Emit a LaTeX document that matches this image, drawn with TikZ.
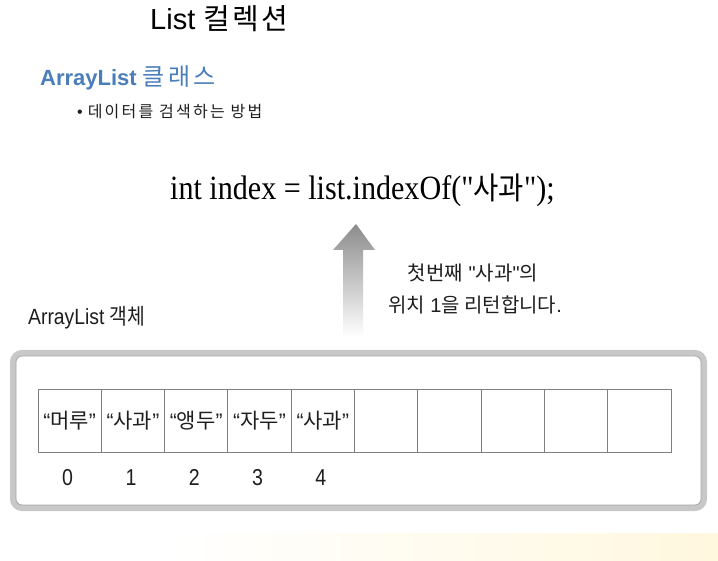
\documentclass[tikz,border=0pt]{standalone}
\usepackage{fontspec}
\setmainfont{Liberation Sans}
\newfontfamily\kr{Noto Sans CJK KR}
\newfontfamily\krsp[LetterSpace=8]{Noto Sans CJK KR}
\newfontfamily\krwide[LetterSpace=14]{Noto Sans CJK KR}
\newfontfamily\codefont{Liberation Serif}
\usetikzlibrary{calc}
\definecolor{titleblue}{RGB}{74,126,187}
\definecolor{cellgray}{RGB}{128,128,128}
\definecolor{framegray}{RGB}{200,200,200}
\definecolor{framedark}{RGB}{165,165,165}
\definecolor{arrowgray}{RGB}{140,140,140}
\definecolor{arrowmid}{RGB}{165,165,165}
\definecolor{softyellow}{RGB}{255,247,222}
\definecolor{ink}{RGB}{30,30,30}
\begin{document}
\begin{tikzpicture}[x=1pt,y=-1pt,
  cellbox/.style={draw=cellgray, line width=0.9pt, minimum width=63.3pt, minimum height=63pt,
    inner sep=0pt, outer sep=0pt, anchor=west, text=ink, font=\fontsize{21}{24}\selectfont},
  idx/.style={text=ink, font=\fontsize{23}{26}\selectfont, xscale=0.85, inner sep=0pt},
  framebox/.style={draw=framegray, line width=6pt, rounded corners=9pt,
    minimum width=691pt, minimum height=155pt, inner sep=0pt},
  innerframe/.style={draw=framedark, line width=0.7pt, rounded corners=6pt,
    minimum width=685pt, minimum height=149pt, inner sep=0pt},
  plain/.style={inner sep=0pt, text=ink}
]
\useasboundingbox (0,0) rectangle (718,561);
\fill[white] (0,0) rectangle (718,561);
% bottom soft gradient
\shade[left color=white, right color=softyellow] (170,533) rectangle (718,561);

% titles
\node[plain, anchor=base west, text=black, font=\fontsize{29}{32}\selectfont] (title) at (150,30) {List {\krsp 컬렉션}};
\node[plain, anchor=base west, text=titleblue, font=\fontsize{22}{26}\selectfont] (sub) at (40,86) {\textbf{ArrayList} {\krwide\fontsize{24}{26}\selectfont 클래스}};
\node[plain, anchor=base west, font=\fontsize{16}{18}\selectfont] (bullet) at (77,118) {•\hspace{5pt}{\krwide 데이터를 검색하는 방법}};

% code line
\node[plain, anchor=base west, text=black, font=\fontsize{34}{38}\codefont, xscale=0.885] (code) at (170,200)
  {int index = list.indexOf(\textquotedbl{\kr\fontsize{31}{34}\selectfont 사과}\textquotedbl);};

% arrow
\shade[top color=arrowgray, middle color=arrowmid, bottom color=white]
  (356,224) -- (375,250) -- (363,250) -- (363,337) -- (343,337) -- (343,250) -- (333,250) -- cycle;

% note
\node[plain, anchor=base, font=\fontsize{20}{22}\selectfont] (note1) at (473,281) {{\kr 첫번째} \textquotedbl{\kr 사과}\textquotedbl{\kr 의}};
\node[plain, anchor=base, font=\fontsize{20}{22}\selectfont] (note2) at (475,313) {{\kr 위치} 1{\kr 을 리턴합니다}.};

% object label
\node[plain, anchor=base west, font=\fontsize{22}{24}\selectfont, xscale=0.88] (objlabel) at (28,325) {ArrayList {\kr 객체}};

% frame
\node[framebox] (box) at (358.5,430.5) {};
\node[innerframe] (boxin) at (358.5,430.5) {};

% cells
\node[cellbox] (c0) at (38,420.5) {“{\kr 머루}”};
\node[cellbox] (c1) at (c0.east) {“{\kr 사과}”};
\node[cellbox] (c2) at (c1.east) {“{\kr 앵두}”};
\node[cellbox] (c3) at (c2.east) {“{\kr 자두}”};
\node[cellbox] (c4) at (c3.east) {“{\kr 사과}”};
\node[cellbox] (c5) at (c4.east) {};
\node[cellbox] (c6) at (c5.east) {};
\node[cellbox] (c7) at (c6.east) {};
\node[cellbox] (c8) at (c7.east) {};
\node[cellbox] (c9) at (c8.east) {};

% indexes
\foreach \i in {0,...,4}{
  \node[idx, anchor=base] (i\i) at ($(c\i.south)+(-2,33)$) {\i};
}
\end{tikzpicture}
\end{document}
